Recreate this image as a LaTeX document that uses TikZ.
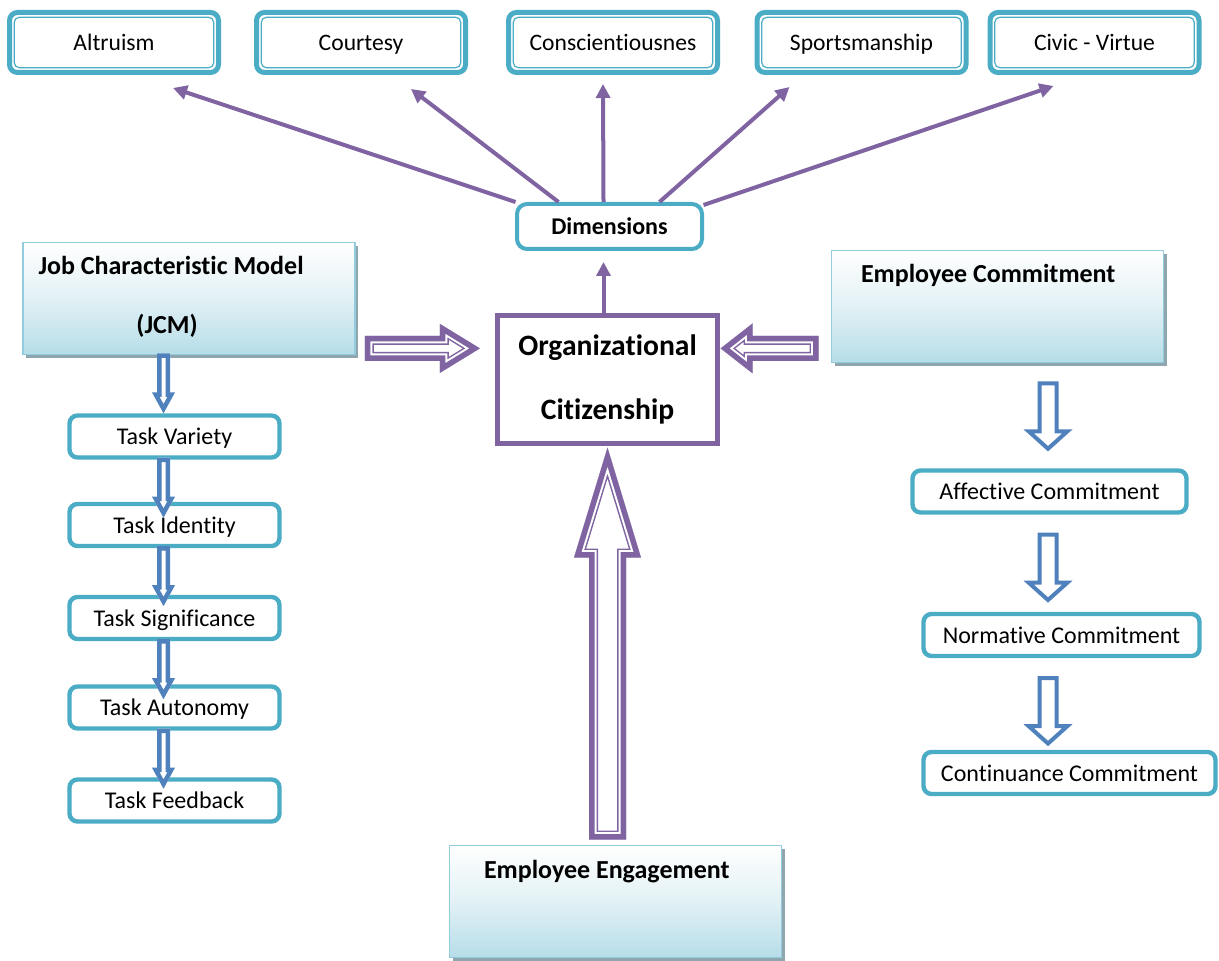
\documentclass[tikz,border=0pt]{standalone}
\usepackage{fontspec}
\setmainfont{Carlito}[Ligatures=NoCommon]
\usetikzlibrary{calc,arrows.meta,shadows}
\definecolor{teal1}{HTML}{4BACC6}
\definecolor{purp}{HTML}{8064A2}
\definecolor{blu}{HTML}{4F81BD}
\definecolor{gbot}{HTML}{B6DDE8}
\definecolor{gmid}{HTML}{E2F1F5}
\definecolor{gline}{HTML}{93CDDD}
\definecolor{shd}{HTML}{8FA6AE}
% block arrow: style, start, angle, length, shaft half, head half, head length
\newcommand{\blockarrow}[7]{%
\begin{scope}[shift={#2},rotate=#3]
\def\arrpath{(0,-#5)--({#4-#7},-#5)--({#4-#7},-#6)--(#4,0)--({#4-#7},#6)--({#4-#7},#5)--(0,#5)--cycle}
\fill[white]\arrpath;
\begin{scope}
\clip\arrpath;
\draw[#1]\arrpath;
\end{scope}
\end{scope}}
\begin{document}
\begin{tikzpicture}[x=0.5pt,y=-0.5pt]
\tikzstyle{ob} = [draw=teal1,line width=2.5pt,rounded corners=4pt,fill=white,minimum width=104.5pt,minimum height=30pt,text height=9pt,text depth=0.6pt,font=\fontsize{11.8}{14}\selectfont,
  path picture={\draw[teal1,line width=0.6pt,rounded corners=2.5pt]([shift={(2.4pt,-2.4pt)}]path picture bounding box.north west)rectangle([shift={(-2.4pt,2.4pt)}]path picture bounding box.south east);}] %dimension box
\tikzstyle{db} = [draw=teal1,line width=2pt,rounded corners=5pt,fill=white,minimum width=92.5pt,minimum height=22.5pt,font=\bfseries\fontsize{12}{14}\selectfont] %dimensions
\tikzstyle{ocb} = [draw=purp,line width=2.5pt,fill=white,minimum width=110pt,minimum height=64pt,align=center,font=\bfseries\fontsize{14.8}{32}\selectfont] %centre box
\tikzstyle{tb} = [draw=teal1,line width=2.2pt,rounded corners=4pt,fill=white,minimum width=105pt,minimum height=21pt,text depth=0pt,font=\fontsize{12}{14}\selectfont] %task box
\tikzstyle{gb} = [draw=gline,line width=0.9pt,top color=white,bottom color=gbot,middle color=gmid,minimum width=166pt,minimum height=56pt,
  drop shadow={shadow xshift=1.6pt,shadow yshift=-1.6pt,fill=shd,opacity=1}] %shaded box
\tikzstyle{hd} = [font=\bfseries\fontsize{13}{15}\selectfont,inner sep=0pt] %heading
\tikzstyle{pl} = [purp,line width=2pt,-{Triangle[length=7pt,width=7pt]}] %purple line
\tikzstyle{pband} = [draw=purp,line width=9pt,line join=miter,postaction={draw=white,line width=7.5pt},postaction={draw=purp,line width=5.5pt}] %double purple
\tikzstyle{bband} = [draw=blu,line width=4.5pt,line join=miter] %narrow blue
\tikzstyle{rband} = [draw=blu,line width=4pt,line join=miter] %wide blue
\useasboundingbox(0,0)rectangle(1219,961);
\node[ob](alt)at(114,42.5){Altruism};
\node[ob](cour)at(361,42.5){Courtesy};
\node[ob](consc)at(613,42.5){Conscientiousnes};
\node[ob](sport)at(861.5,42.5){Sportsmanship};
\node[ob](civic)at(1094.5,42.5){Civic - Virtue};
\node[db](dim)at(609.5,226.5){Dimensions};
\node[ocb](oc)at(607.5,379.5){Organizational\\Citizenship};
\node[gb](jcm)at(189,298.5){};
\node[gb](ec)at(997.5,306.5){};
\node[gb](ee)at(615.5,901.5){};
\node[hd,anchor=base west](jcmt)at($(jcm.north west)+(16,33)$){Job Characteristic Model};
\node[hd,anchor=base](jcmt2)at($(jcm.north west)+(145,92)$){(JCM)};
\node[hd,anchor=base west](ect)at($(ec.north west)+(30,33)$){Employee Commitment};
\node[hd,anchor=base west](eet)at($(ee.north west)+(35,34)$){Employee Engagement};
\node[tb](tv)at(174.5,436.5){Task Variety};
\node[tb](ti)at(174.5,525){Task Identity};
\node[tb](ts)at(174.5,618){Task Significance};
\node[tb](ta)at(174.5,707.5){Task Autonomy};
\node[tb](tf)at(174.5,800.5){Task Feedback};
\node[tb,minimum width=137pt](ac)at(1049.5,491.5){Affective Commitment};
\node[tb,minimum width=138pt](nc)at(1061.5,635){Normative Commitment};
\node[tb,minimum width=146pt](cc)at(1069.5,773){Continuance Commitment};
\draw[pl]($(dim.north)+(-94,0)$)--($(alt.south)+(59,13)$);
\draw[pl]($(dim.north)+(-51,0)$)--($(cour.south)+(50,14)$);
\draw[pl]($(dim.north)+(-6,0)$)--($(consc.south)+(-10,9)$);
\draw[pl]($(dim.north)+(50,0)$)--($(sport.south)+(-72,12)$);
\draw[pl]($(dim.north)+(94,3)$)--($(civic.south)+(-41,11)$);
\draw[pl]($(oc.north)+(-4,0)$)--($(oc.north |- dim.south)+(-4,11)$);
\blockarrow{pband}{($(jcm.south east)+(9,-7)$)}{0}{115}{12.5}{24.5}{40}
\blockarrow{pband}{($(ec.south west)+(-12,-15)$)}{180}{98}{12.5}{25}{32}
\blockarrow{pband}{($(oc.south |- ee.north)+(0,-5)$)}{90}{392}{18.5}{33.5}{110}
\blockarrow{bband}{($(jcm.south -| tv.north)+(-11,-2)$)}{-90}{60}{6.5}{11.5}{21}
\blockarrow{bband}{($(tv.south)+(-11,-2)$)}{-90}{60}{6.5}{11.5}{21}
\blockarrow{bband}{($(ti.south)+(-11,-2)$)}{-90}{60}{6.5}{11.5}{21}
\blockarrow{bband}{($(ts.south)+(-11,-2)$)}{-90}{60}{6.5}{11.5}{21}
\blockarrow{bband}{($(ta.south)+(-11,-2)$)}{-90}{60}{6.5}{11.5}{21}
\blockarrow{rband}{($(ec.south -| ac.north)+(-1.5,18)$)}{-90}{70}{10.5}{24.5}{22}
\blockarrow{rband}{($(ac.south)+(-1.5,18)$)}{-90}{70}{10.5}{24.5}{22}
\blockarrow{rband}{($(nc.south -| ac.north)+(-1.5,18)$)}{-90}{70}{10.5}{24.5}{22}
\end{tikzpicture}
\end{document}
